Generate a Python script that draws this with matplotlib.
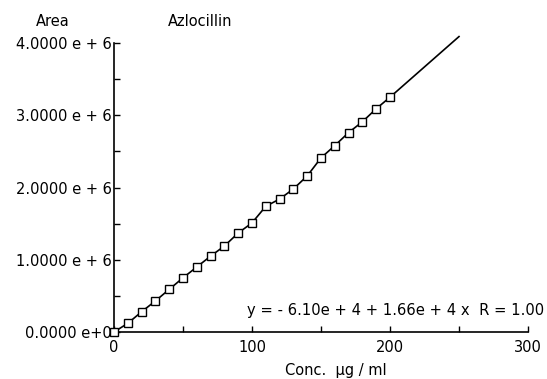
import matplotlib
matplotlib.use("Agg")
import matplotlib.pyplot as plt
from matplotlib.ticker import MultipleLocator, FixedLocator, FixedFormatter

# Data
conc = [0, 10, 20, 30, 40, 50, 60, 70, 80, 90, 100, 110, 120, 130, 140, 150,
        160, 170, 180, 190, 200]
area = [0.0e6, 0.12e6, 0.28e6, 0.43e6, 0.59e6, 0.75e6, 0.90e6, 1.05e6, 1.19e6,
        1.37e6, 1.51e6, 1.74e6, 1.84e6, 1.98e6, 2.16e6, 2.41e6, 2.58e6, 2.76e6,
        2.91e6, 3.09e6, 3.25e6]
intercept = -6.10e4
slope = 1.66e4
fit_end = 250
x_ticks = [0, 100, 200, 300]
x_ticklabels = ["0", "100", "200", "300"]
y_ticks = [0, 1e6, 2e6, 3e6, 4e6]
y_ticklabels = ["0.0000 e+0", "1.0000 e + 6", "2.0000 e + 6", "3.0000 e + 6", "4.0000 e + 6"]

plt.rcParams['font.family'] = ['DejaVu Sans']
fig = plt.figure(figsize=(5.47, 3.79), dpi=100)
ax = fig.add_axes([114/547, 1-332/379, (528-114)/547, (332-43)/379])

# fitted line through points then extension
ax.plot(conc, area, color='black', lw=1.2, zorder=2)
ax.plot([conc[-1], fit_end], [area[-1], intercept + slope*fit_end], color='black', lw=1.2,
        zorder=2, clip_on=False)
ax.plot(conc, area, linestyle='none', marker='s', ms=5.8, mfc='white', mec='black', mew=1.0,
        zorder=3, clip_on=False)

ax.set_xlim(0, 300)
ax.set_ylim(0, 4e6)
ax.spines['top'].set_visible(False)
ax.spines['right'].set_visible(False)
for s in ['left', 'bottom']:
    ax.spines[s].set_linewidth(1.2)

ax.xaxis.set_major_locator(FixedLocator(x_ticks))
ax.xaxis.set_major_formatter(FixedFormatter(x_ticklabels))
ax.xaxis.set_minor_locator(MultipleLocator(50))
ax.yaxis.set_major_locator(FixedLocator(y_ticks))
ax.yaxis.set_major_formatter(FixedFormatter(y_ticklabels))
ax.yaxis.set_minor_locator(MultipleLocator(0.5e6))
ax.tick_params(axis='both', which='both', direction='in', length=4, width=1.0, labelsize=10.5)
ax.tick_params(axis='x', which='major', pad=6)
ax.tick_params(axis='y', which='major', pad=1.5)

fig.text(53/547, 1-22/379, "Area", ha='center', va='center', fontsize=10.5)
fig.text(200/547, 1-22/379, "Azlocillin", ha='center', va='center', fontsize=10.5)
fig.text(336/547, 1-371/379, "Conc.  \u00b5g / ml", ha='center', va='center', fontsize=10.5)
fig.text(544/547, 1-311/379, "y = - 6.10e + 4 + 1.66e + 4 x  R = 1.00", ha='right', va='center',
         fontsize=10.6)

fig.savefig("out.png", dpi=100)
